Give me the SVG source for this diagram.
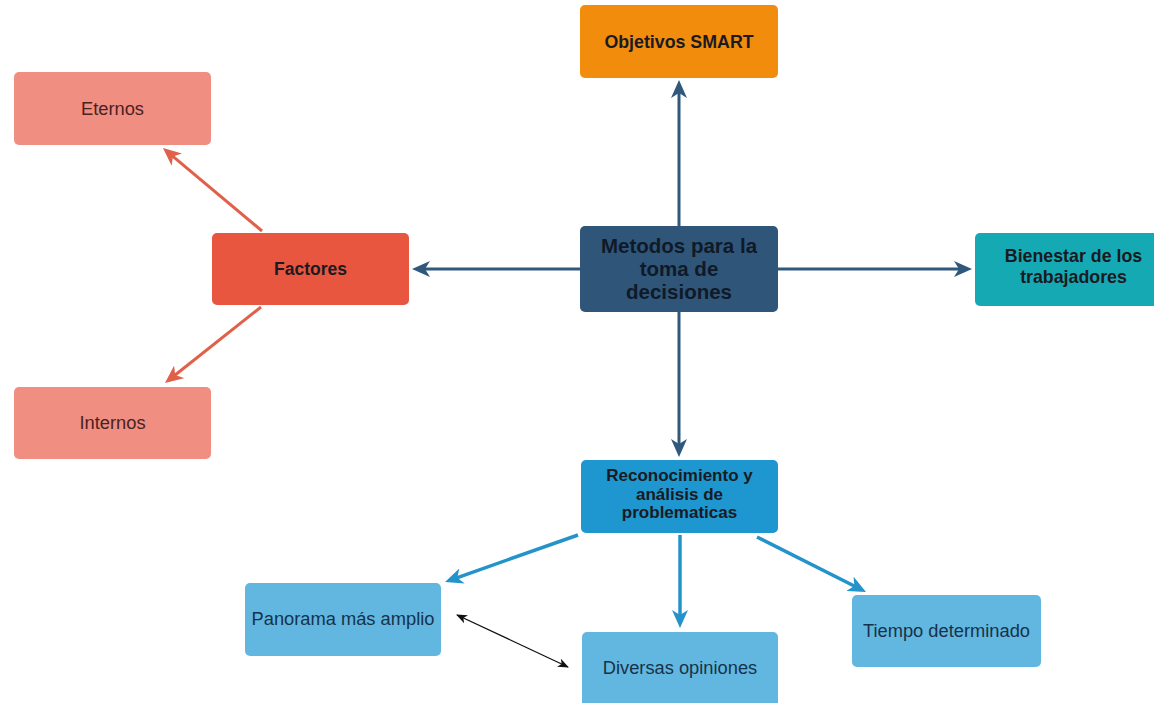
<svg xmlns="http://www.w3.org/2000/svg" width="1154" height="703" viewBox="0 0 1154 703">
  <style>
    .box { rx: 5; ry: 5; }
    text { font-family: "Liberation Sans", Arial, sans-serif; text-anchor: middle; }
    .b { font-weight: bold; font-size: 17px; fill: #1a1a22; }
    .r { font-size: 18.3px; fill: #2a2a30; }
    .main { font-weight: bold; font-size: 20.5px; fill: #0f1a28; }
    .warm { fill: #4a2220; }
    .cool { fill: #17324a; }
    .c-dark { stroke: #2f587c; stroke-width: 3; fill: none; }
    .c-red { stroke: #e0604a; stroke-width: 3; fill: none; }
    .c-blue { stroke: #2393ca; stroke-width: 3.5; fill: none; }
    .c-black { stroke: #111; stroke-width: 1.3; fill: none; }
  </style>
  <defs>
    <marker id="ah-dark" markerUnits="userSpaceOnUse" markerWidth="18" markerHeight="16" refX="7" refY="8" orient="auto">
      <path d="M0,0 L18,8 L0,16 L5,8 Z" fill="#2f587c"/>
    </marker>
    <marker id="ah-red" markerUnits="userSpaceOnUse" markerWidth="18" markerHeight="16" refX="7" refY="8" orient="auto">
      <path d="M0,0 L18,8 L0,16 L5,8 Z" fill="#e0604a"/>
    </marker>
    <marker id="ah-blue" markerUnits="userSpaceOnUse" markerWidth="18" markerHeight="16" refX="7" refY="8" orient="auto">
      <path d="M0,0 L18,8 L0,16 L5,8 Z" fill="#2393ca"/>
    </marker>
    <marker id="ah-black" markerUnits="userSpaceOnUse" markerWidth="11" markerHeight="9" refX="10" refY="4.5" orient="auto-start-reverse">
      <path d="M0,0 L11,4.5 L0,9 L3,4.5 Z" fill="#111"/>
    </marker>
  </defs>

  <rect width="1154" height="703" fill="#ffffff"/>

  <!-- connectors: arrow tips sit 11px beyond each line end -->
  <g id="connectors">
    <line class="c-dark" x1="679" y1="226" x2="679" y2="91" marker-end="url(#ah-dark)"/>
    <line class="c-dark" x1="580" y1="269" x2="423" y2="269" marker-end="url(#ah-dark)"/>
    <line class="c-dark" x1="778" y1="269" x2="961" y2="269" marker-end="url(#ah-dark)"/>
    <line class="c-dark" x1="679" y1="312" x2="679" y2="446" marker-end="url(#ah-dark)"/>
    <line class="c-red" x1="262" y1="231" x2="171.4" y2="155.1" marker-end="url(#ah-red)"/>
    <line class="c-red" x1="261" y1="307" x2="173.6" y2="376.2" marker-end="url(#ah-red)"/>
    <line class="c-blue" x1="578" y1="535" x2="455.4" y2="578.3" marker-end="url(#ah-blue)"/>
    <line class="c-blue" x1="680" y1="535" x2="680" y2="617" marker-end="url(#ah-blue)"/>
    <line class="c-blue" x1="757" y1="537" x2="856.2" y2="587" marker-end="url(#ah-blue)"/>
    <line class="c-black" x1="457" y1="615" x2="568" y2="667" marker-start="url(#ah-black)" marker-end="url(#ah-black)"/>
  </g>

  <g id="node-smart">
    <rect class="box" x="580" y="5" width="198" height="73" fill="#f28c0d"/>
    <text class="b" x="679" y="47.5" style="font-size:17.8px">Objetivos SMART</text>
  </g>

  <g id="node-metodos">
    <rect class="box" x="580" y="226" width="198" height="86" fill="#2f5578"/>
    <text class="main" x="679" y="253">Metodos para la</text>
    <text class="main" x="679" y="276">toma de</text>
    <text class="main" x="679" y="299">decisiones</text>
  </g>

  <g id="node-eternos">
    <rect class="box" x="14" y="72" width="197" height="73" fill="#f08e82"/>
    <text class="r warm" x="112.5" y="115">Eternos</text>
  </g>

  <g id="node-factores">
    <rect class="box" x="212" y="233" width="197" height="72" fill="#e85640"/>
    <text class="b" x="310.5" y="275" style="font-size:17.5px">Factores</text>
  </g>

  <g id="node-internos">
    <rect class="box" x="14" y="387" width="197" height="72" fill="#f08e82"/>
    <text class="r warm" x="112.5" y="429">Internos</text>
  </g>

  <g id="node-bienestar">
    <rect class="box" x="975" y="233" width="197" height="73" fill="#15a9b3"/>
    <text class="b" x="1073.5" y="262" style="font-size:17.8px">Bienestar de los</text>
    <text class="b" x="1073.5" y="283" style="font-size:17.8px">trabajadores</text>
  </g>

  <g id="node-reconocimiento">
    <rect class="box" x="581" y="460" width="197" height="73" fill="#1e96cf"/>
    <text class="b" x="679.5" y="481">Reconocimiento y</text>
    <text class="b" x="679.5" y="499.5">análisis de</text>
    <text class="b" x="679.5" y="518">problematicas</text>
  </g>

  <g id="node-panorama">
    <rect class="box" x="245" y="583" width="196" height="73" fill="#62b7e0"/>
    <text class="r cool" x="343" y="625">Panorama más amplio</text>
  </g>

  <g id="node-diversas">
    <rect class="box" x="582" y="632" width="196" height="76" fill="#62b7e0"/>
    <text class="r cool" x="680" y="674">Diversas opiniones</text>
  </g>

  <g id="node-tiempo">
    <rect class="box" x="852" y="595" width="189" height="72" fill="#62b7e0"/>
    <text class="r cool" x="946.5" y="637">Tiempo determinado</text>
  </g>
</svg>
